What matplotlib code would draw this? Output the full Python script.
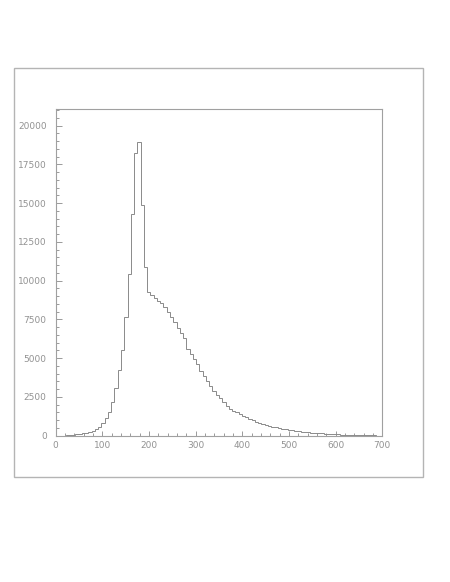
import numpy as np
import matplotlib
matplotlib.use("Agg")
import matplotlib.pyplot as plt
from matplotlib.patches import Rectangle
from matplotlib.ticker import MultipleLocator

# contenido de los 100 canales (0 a 700, ancho 7)
rise = [0, 5, 10, 15, 35, 45, 90, 110, 170, 190, 260, 330, 420, 540, 800,
        1120, 1550, 2190, 3050, 4240, 5530, 7680, 10430, 14280, 18260, 18970,
        14880, 10900, 9260]
shoulder = [9100, 8900, 8700, 8550, 8300, 7950, 7650, 7350, 6950, 6600, 6300]
tail = [5600, 5300, 4950, 4600, 4150, 3850, 3550, 3200, 2900, 2650, 2450, 2200,
        1900, 1750, 1600, 1500, 1400, 1300, 1200, 1100, 1000, 900, 830, 760,
        700, 640, 590, 540, 500, 450, 410, 380, 350, 320, 290, 265, 240, 220,
        200, 180, 165, 150, 135, 120, 110, 95, 85, 75, 65, 55, 48, 40, 33, 27,
        22, 18, 15, 12, 10, 8]
counts = rise + shoulder + tail
x_min, x_max = 0, 700
y_max = 21060
edges = np.linspace(x_min, x_max, len(counts) + 1)

gray = "#929292"
fig = plt.figure(figsize=(4.5, 5.82), dpi=100)

# marco exterior
fig.add_artist(Rectangle((0.0318, 0.1809), 0.9089, 0.7017, transform=fig.transFigure,
                         fill=False, edgecolor="#b4b4b4", linewidth=1.0))

ax = fig.add_axes([0.1238, 0.2514, 0.7258, 0.5608])
ax.stairs(counts, edges, color="#8a8a8a", linewidth=0.7)

ax.set_xlim(x_min, x_max)
ax.set_ylim(0, y_max)
ax.xaxis.set_major_locator(MultipleLocator(100))
ax.xaxis.set_minor_locator(MultipleLocator(20))
ax.yaxis.set_major_locator(MultipleLocator(2500))
ax.yaxis.set_minor_locator(MultipleLocator(500))

for s in ax.spines.values():
    s.set_color("#a0a0a0")
    s.set_linewidth(0.8)

ax.tick_params(axis="y", which="major", direction="in", length=4.3, width=0.6,
               color="#8a8a8a", labelcolor=gray, labelsize=6.5, pad=6.5)
ax.tick_params(axis="y", which="minor", direction="in", length=2.4, width=0.6, color="#8a8a8a")
ax.tick_params(axis="x", which="major", direction="in", length=3.5, width=0.6,
               color="#8a8a8a", labelcolor=gray, labelsize=6.5, pad=3.8)
ax.tick_params(axis="x", which="minor", direction="in", length=2.0, width=0.6, color="#8a8a8a")

plt.savefig("out.png", dpi=100)
